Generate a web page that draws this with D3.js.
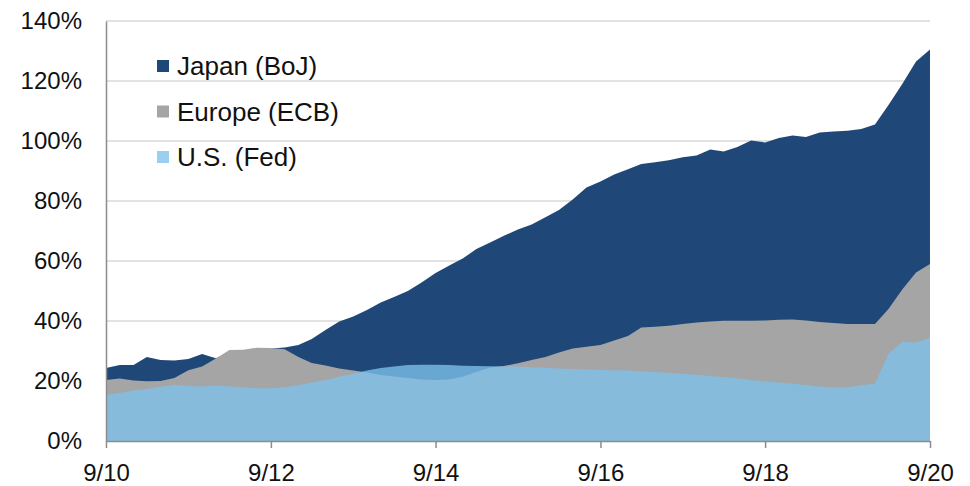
<!DOCTYPE html>
<html>
<head>
<meta charset="utf-8">
<script src="https://cdn.jsdelivr.net/npm/d3@7"></script>
<style>
  body { margin: 0; background: #fff; }
  text { font-family: "Liberation Sans", Arial, sans-serif; fill: #111; }
</style>
</head>
<body>
<div id="chart"></div>
<script>
// bimonthly observations, Sep 2010 .. Sep 2020 (percent of GDP)
const startMonth = "2010-09";
const japan = [24.3, 25.3, 25.3, 28.0, 27.0, 26.8, 27.3, 29.0, 27.6, 29.5,
    30.0, 30.5, 30.8, 31.2, 32.0, 34.0, 37.0, 39.8, 41.5, 43.7,
    46.2, 48.0, 50.0, 52.8, 56.0, 58.5, 60.9, 64.0, 66.2, 68.4,
    70.5, 72.2, 74.6, 77.0, 80.5, 84.5, 86.5, 88.8, 90.6, 92.3,
    92.9, 93.6, 94.6, 95.2, 97.2, 96.5, 98.0, 100.2, 99.5, 101.0,
    101.8, 101.3, 102.8, 103.2, 103.4, 104.0, 105.5, 112.0, 119.0, 126.5,
    130.5];
const europe = [20.3, 20.8, 20.2, 19.9, 20.0, 21.0, 23.6, 24.8, 27.5, 30.3,
    30.4, 31.1, 31.0, 30.6, 28.0, 26.0, 25.2, 24.2, 23.5, 22.8,
    22.0, 21.5, 21.0, 20.5, 20.3, 20.5, 21.5, 23.0, 24.5, 25.0,
    25.9, 27.0, 28.0, 29.5, 30.8, 31.4, 32.0, 33.5, 35.0, 37.8,
    38.1, 38.4, 39.0, 39.5, 39.8, 40.1, 40.1, 40.1, 40.2, 40.4,
    40.5, 40.2, 39.7, 39.3, 39.0, 39.0, 39.0, 44.0, 50.5, 56.2,
    59.0];
const us = [15.3, 16.0, 16.8, 17.3, 18.1, 18.7, 18.3, 18.2, 18.6, 18.2,
    17.9, 17.6, 17.6, 17.9, 18.6, 19.5, 20.3, 21.4, 22.4, 23.5,
    24.3, 24.8, 25.3, 25.4, 25.4, 25.3, 25.1, 25.0, 24.9, 24.8,
    24.8, 24.6, 24.4, 24.2, 24.0, 23.8, 23.7, 23.6, 23.5, 23.2,
    23.0, 22.7, 22.4, 22.1, 21.7, 21.3, 20.8, 20.3, 19.9, 19.5,
    19.1, 18.7, 18.2, 17.8, 17.9, 18.6, 19.1, 29.0, 33.1, 32.8,
    34.4];

const seriesNames = ["Japan (BoJ)", "Europe (ECB)", "U.S. (Fed)"];
const seriesColors = ["#1f4878", "#a5a5a5", "#7ec1eb"];
const seriesOpacity = [1, 1, 0.78];
const xTickMonths = ["2010-09", "2012-09", "2014-09", "2016-09", "2018-09", "2020-09"];
const xTickLabels = ["9/10", "9/12", "9/14", "9/16", "9/18", "9/20"];
const yTicks = [0, 20, 40, 60, 80, 100, 120, 140];

const width = 970, height = 486;
const margin = { top: 21, right: 40, bottom: 45, left: 106 };

const parseMonth = d3.timeParse("%Y-%m");
const dates = d3.range(japan.length).map(i => d3.timeMonth.offset(parseMonth(startMonth), i * 2));
const rows = dates.map((d, i) => ({ date: d, values: [japan[i], europe[i], us[i]] }));

const x = d3.scaleTime()
    .domain([parseMonth(startMonth), dates[dates.length - 1]])
    .range([margin.left, width - margin.right]);

const y = d3.scaleLinear()
    .domain([0, 140])
    .range([height - margin.bottom, margin.top]);

const svg = d3.select("#chart").append("svg")
    .attr("width", width)
    .attr("height", height);

// gridlines
svg.append("g")
    .selectAll("line")
    .data(yTicks.slice(1))
    .join("line")
    .attr("x1", margin.left)
    .attr("x2", width - margin.right)
    .attr("y1", d => y(d))
    .attr("y2", d => y(d))
    .attr("stroke", "#d9d9d9")
    .attr("stroke-width", 1.5);

// overlapping areas, back to front
seriesNames.forEach((name, k) => {
    const area = d3.area()
        .x(d => x(d.date))
        .y0(y(0))
        .y1(d => y(d.values[k]));
    svg.append("path")
        .datum(rows)
        .attr("fill", seriesColors[k])
        .attr("fill-opacity", seriesOpacity[k])
        .attr("d", area);
});

// y axis
const yAxis = svg.append("g")
    .attr("transform", `translate(${margin.left},0)`)
    .call(d3.axisLeft(y).tickValues(yTicks).tickSize(0).tickPadding(24).tickFormat(d => d + "%"));
yAxis.select(".domain").attr("stroke", "#8c8c8c").attr("stroke-width", 1.5);
yAxis.selectAll("text")
    .style("font-size", "24px")
    .style("font-family", "Liberation Sans, Arial, sans-serif")
    .attr("fill", "#111");

// x axis
const xAxis = svg.append("g")
    .attr("transform", `translate(0,${y(0)})`)
    .call(d3.axisBottom(x)
        .tickValues(xTickMonths.map(parseMonth))
        .tickSize(7)
        .tickSizeOuter(0)
        .tickPadding(16)
        .tickFormat((d, i) => xTickLabels[i]));
xAxis.select(".domain").attr("stroke", "#8c8c8c").attr("stroke-width", 1.5);
xAxis.selectAll(".tick line").attr("stroke", "#8c8c8c").attr("stroke-width", 1.5);
xAxis.selectAll("text")
    .style("font-size", "24px")
    .style("font-family", "Liberation Sans, Arial, sans-serif")
    .attr("fill", "#111");

// legend
const legend = svg.append("g")
    .attr("transform", "translate(157,66)");
const item = legend.selectAll("g")
    .data(seriesNames)
    .join("g")
    .attr("transform", (d, i) => `translate(0,${i * 45.5})`);
item.append("rect")
    .attr("x", 0)
    .attr("y", -6)
    .attr("width", 12)
    .attr("height", 12)
    .attr("fill", (d, i) => seriesColors[i])
    .attr("fill-opacity", (d, i) => seriesOpacity[i]);
item.append("text")
    .attr("x", 20)
    .attr("dy", "0.35em")
    .style("font-size", "26px")
    .text(d => d);
</script>
</body>
</html>
